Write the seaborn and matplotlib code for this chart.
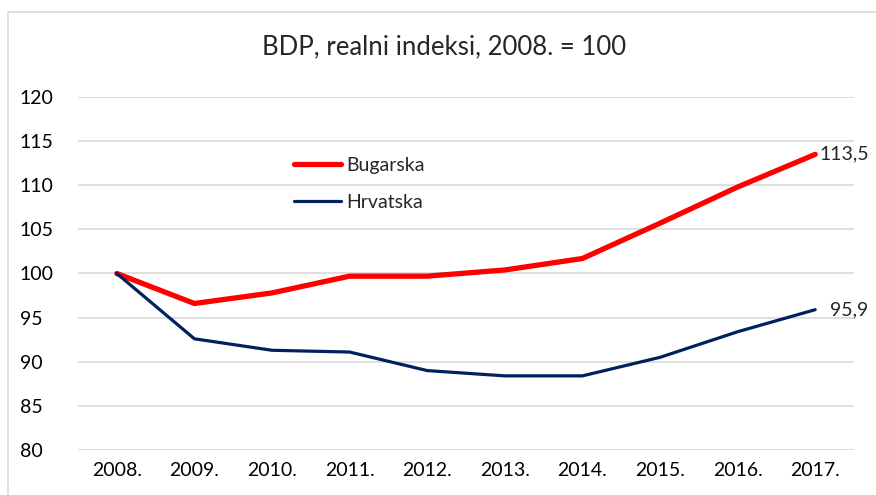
import matplotlib
matplotlib.use("Agg")
import matplotlib.pyplot as plt
import seaborn as sns
import pandas as pd
from matplotlib.patches import Rectangle
from matplotlib.lines import Line2D

years = ["2008.", "2009.", "2010.", "2011.", "2012.", "2013.", "2014.", "2015.", "2016.", "2017."]
bugarska = [100.0, 96.6, 97.8, 99.7, 99.7, 100.4, 101.7, 105.7, 109.8, 113.5]
hrvatska = [100.0, 92.6, 91.3, 91.1, 89.0, 88.4, 88.4, 90.5, 93.4, 95.9]
series_names = ["Bugarska", "Hrvatska"]
end_labels = ["113,5", "95,9"]
title = "BDP, realni indeksi, 2008. = 100"
yticks = [80, 85, 90, 95, 100, 105, 110, 115, 120]

sns.set_theme(style="white")
plt.rcParams['font.family'] = ['Lato', 'DejaVu Sans']

df = pd.DataFrame({
    "year": years * 2,
    "value": bugarska + hrvatska,
    "series": [series_names[0]] * len(years) + [series_names[1]] * len(years),
})

fig = plt.figure(figsize=(8.76, 4.95), dpi=100)
fig.patches.append(Rectangle((8 / 876, -0.1), 1.2, 1 - 12 / 495 + 0.1, transform=fig.transFigure,
                             fill=False, edgecolor="#d9d9d9", linewidth=1.2))
ax = fig.add_axes([78 / 876, 1 - 450 / 495, (854 - 78) / 876, (450 - 97) / 495])

palette = {"Bugarska": "#ff0000", "Hrvatska": "#002060"}
sns.lineplot(data=df, x="year", y="value", hue="series", palette=palette, sort=False,
             size="series", sizes={"Bugarska": 3.8, "Hrvatska": 2.3}, ax=ax, legend=False)

ax.set_ylim(80, 120)
ax.set_xlim(-0.5, len(years) - 0.5)
ax.set_yticks(yticks)
ax.yaxis.grid(True, color="#d9d9d9", linewidth=1.2)
ax.set_axisbelow(True)
for s in ax.spines.values():
    s.set_visible(False)
ax.set_xlabel("")
ax.set_ylabel("")
ax.tick_params(axis="both", length=0, labelsize=14, colors="black")
ax.tick_params(axis="y", pad=42)
ax.tick_params(axis="x", pad=9)
for lbl in ax.get_yticklabels():
    lbl.set_horizontalalignment("left")

# end labels
ax.text(len(years) - 1 + 0.06, bugarska[-1], end_labels[0], fontsize=14, va="center", ha="left")
ax.text(len(years) - 1 + 0.19, hrvatska[-1], end_labels[1], fontsize=14, va="center", ha="left")

# legend
handles = [Line2D([], [], color="#ff0000", lw=3.8), Line2D([], [], color="#002060", lw=2.3)]
leg = ax.legend(handles, series_names, loc="upper left", bbox_to_anchor=(0.256, 0.88),
                frameon=False, fontsize=14, handlelength=2.4, handletextpad=0.3, labelspacing=1.05)

fig.text(444 / 876, 1 - 47 / 495, title, fontsize=18.5, ha="center", va="center")

fig.savefig("out.png", dpi=100)
